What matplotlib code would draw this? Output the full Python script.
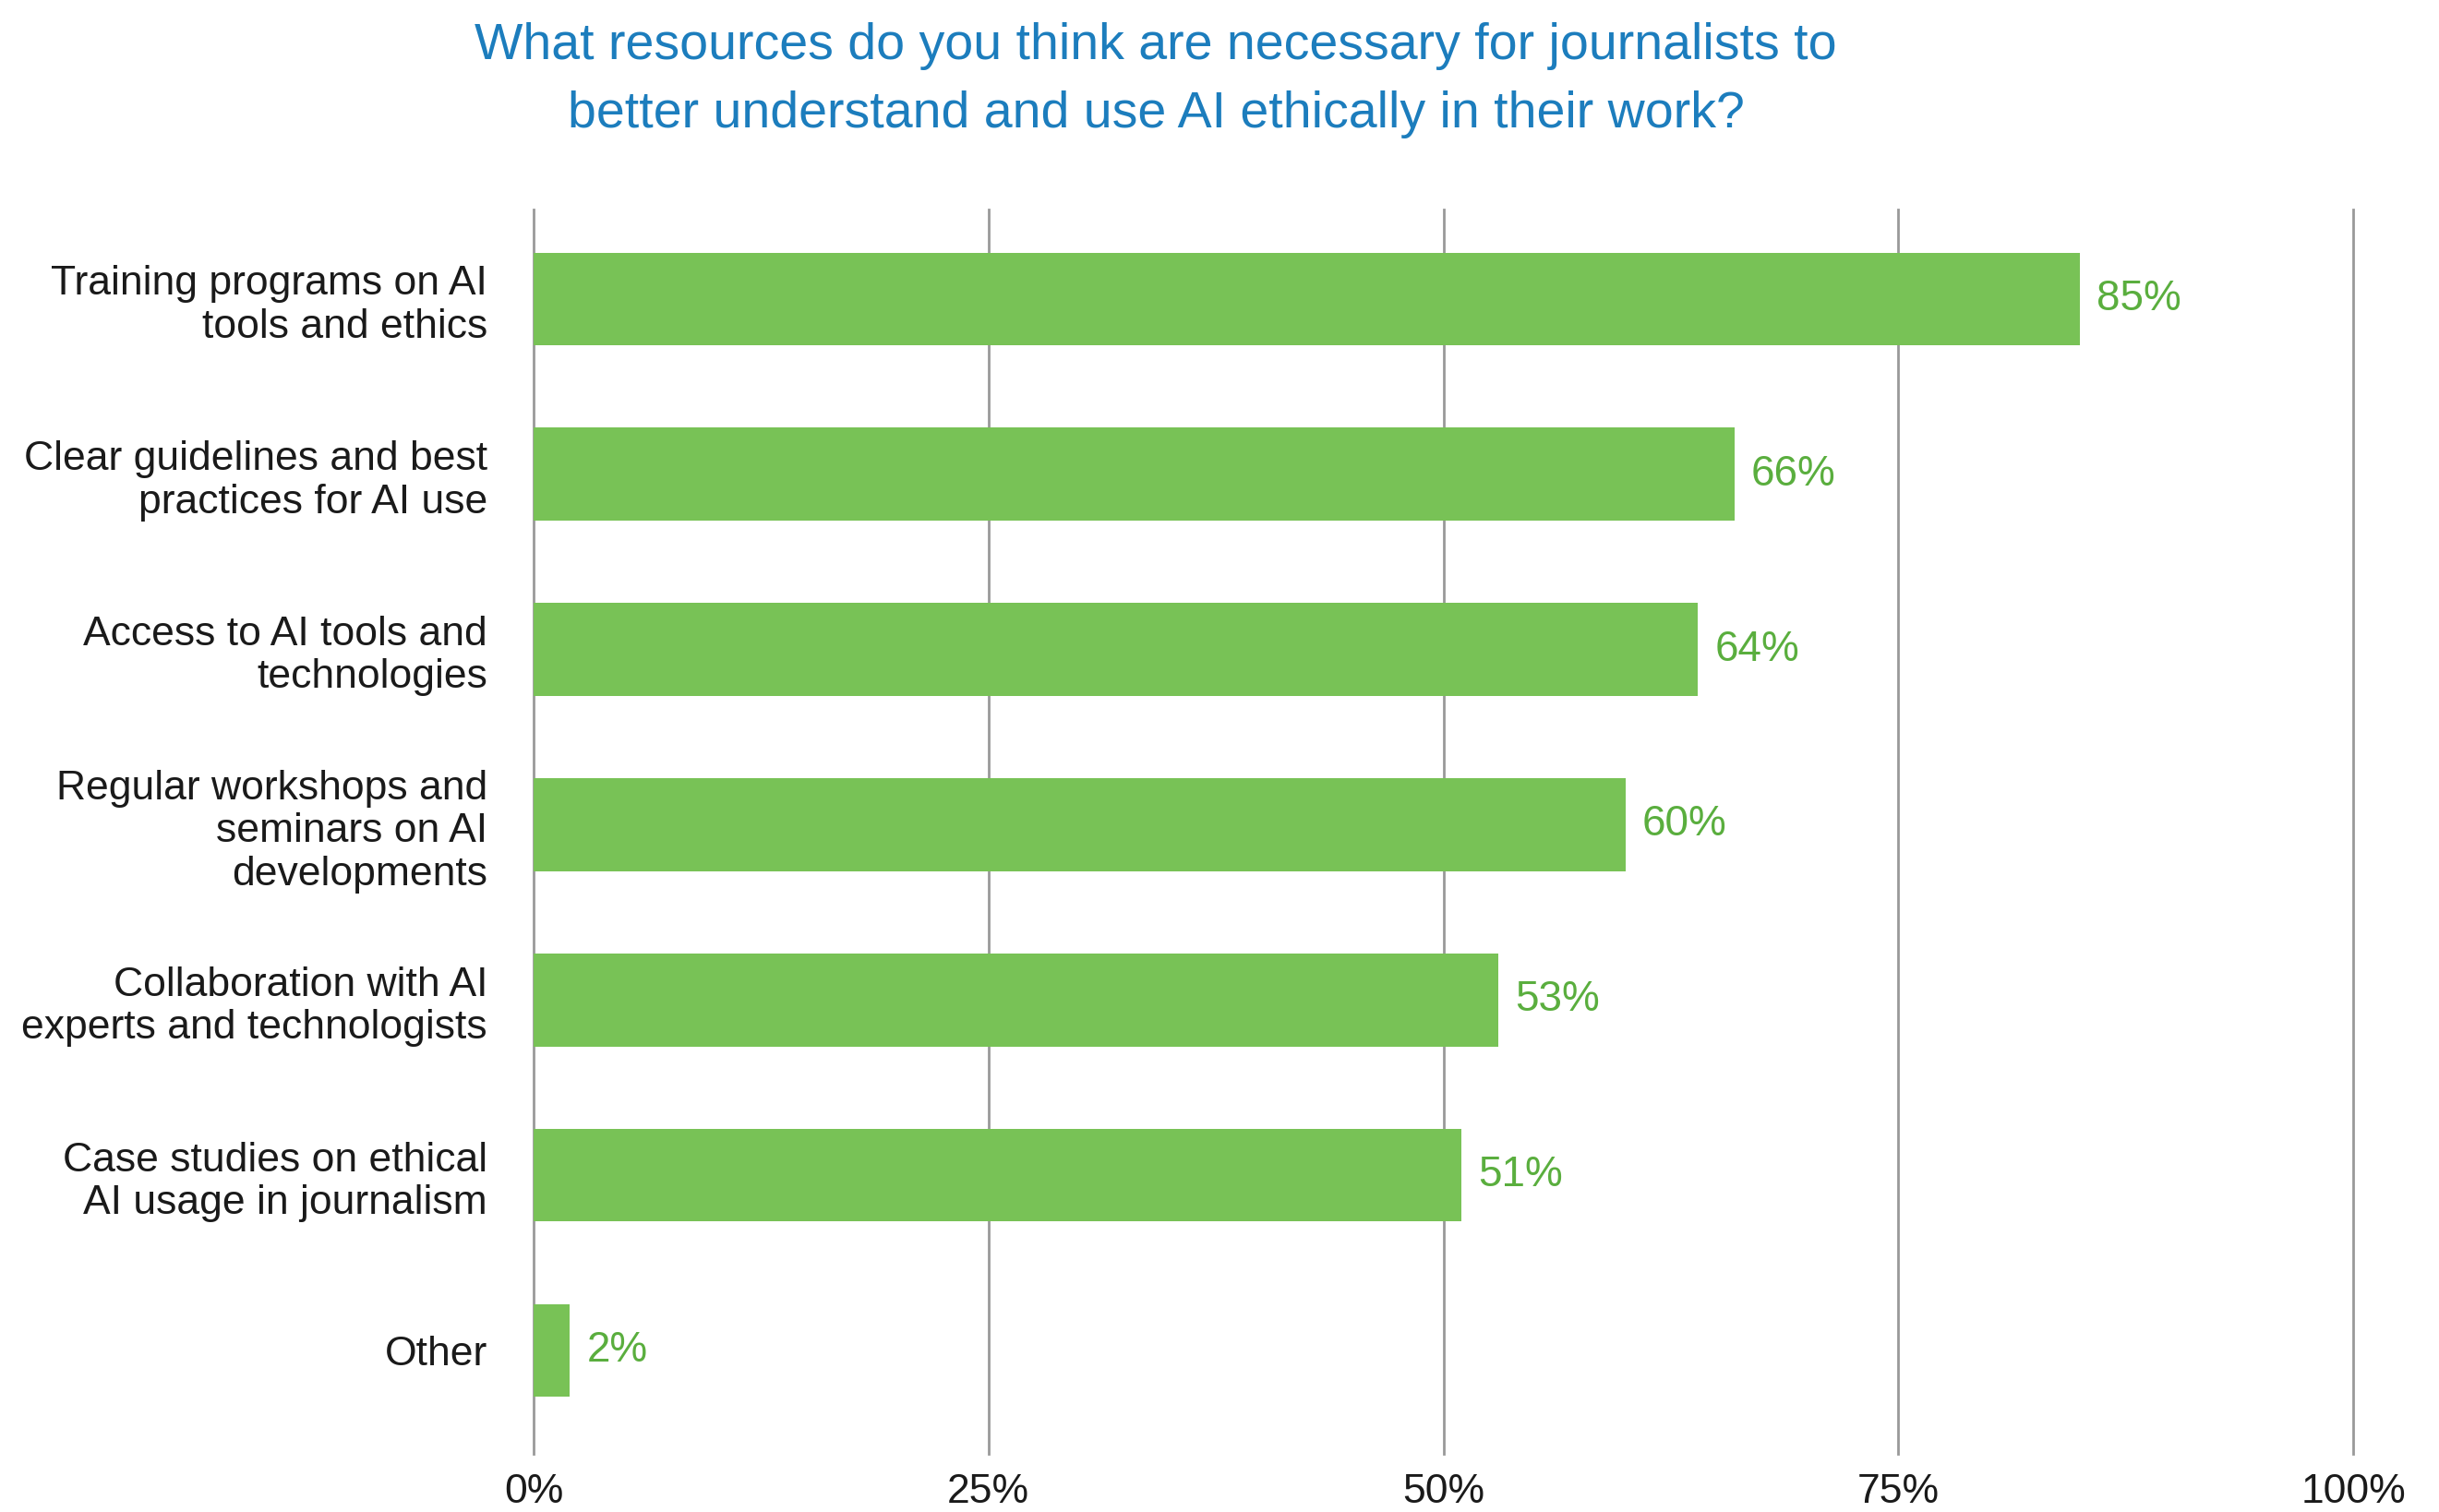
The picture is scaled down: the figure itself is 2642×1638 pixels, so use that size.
import matplotlib
matplotlib.use("Agg")
import matplotlib.pyplot as plt
from matplotlib.ticker import FuncFormatter

categories = [
    "Training programs on AI\ntools and ethics",
    "Clear guidelines and best\npractices for AI use",
    "Access to AI tools and\ntechnologies",
    "Regular workshops and\nseminars on AI\ndevelopments",
    "Collaboration with AI\nexperts and technologists",
    "Case studies on ethical\nAI usage in journalism",
    "Other",
]
values = [85, 66, 64, 60, 53, 51, 2]
xticks = [0, 25, 50, 75, 100]

title = ("What resources do you think are necessary for journalists to\n"
         "better understand and use AI ethically in their work?")

plt.rcParams["font.family"] = ["Liberation Sans", "DejaVu Sans"]

BAR = "#78c256"
LABEL = "#5aae3e"
TITLE = "#1c7dbd"
GRID = "#999999"

fig = plt.figure(figsize=(26.42, 16.38), dpi=100)
ax = fig.add_axes([0.2188, 0.0385, 0.7460, 0.8229])

pos = list(range(len(categories)))
ax.barh(pos, values, height=0.53, color=BAR, zorder=2)

for p, v in zip(pos, values):
    ax.annotate(f"{v}%", xy=(v, p), xytext=(13, 0), textcoords="offset points",
                va="center", ha="left", fontsize=33, color=LABEL)

ax.set_xlim(0, 100)
ax.set_ylim(6.59, -0.51)
ax.set_xticks(xticks)
ax.xaxis.set_major_formatter(FuncFormatter(lambda x, _: f"{x:.0f}%"))
ax.set_yticks(pos)
ax.set_yticklabels(categories, fontsize=32, color="#1a1a1a", linespacing=1.17)
ax.tick_params(axis="x", labelsize=32, colors="#1a1a1a", length=0, pad=15)
ax.tick_params(axis="y", length=0, pad=36)
ax.grid(axis="x", color=GRID, linewidth=2, zorder=0)
for line in ax.get_xgridlines():
    line.set_clip_on(False)
for s in ax.spines.values():
    s.set_visible(False)

fig.text(0.474, 0.947, title, ha="center", va="center", fontsize=40,
         color=TITLE, linespacing=1.55)

fig.savefig("out.png", dpi=100, facecolor="white")
